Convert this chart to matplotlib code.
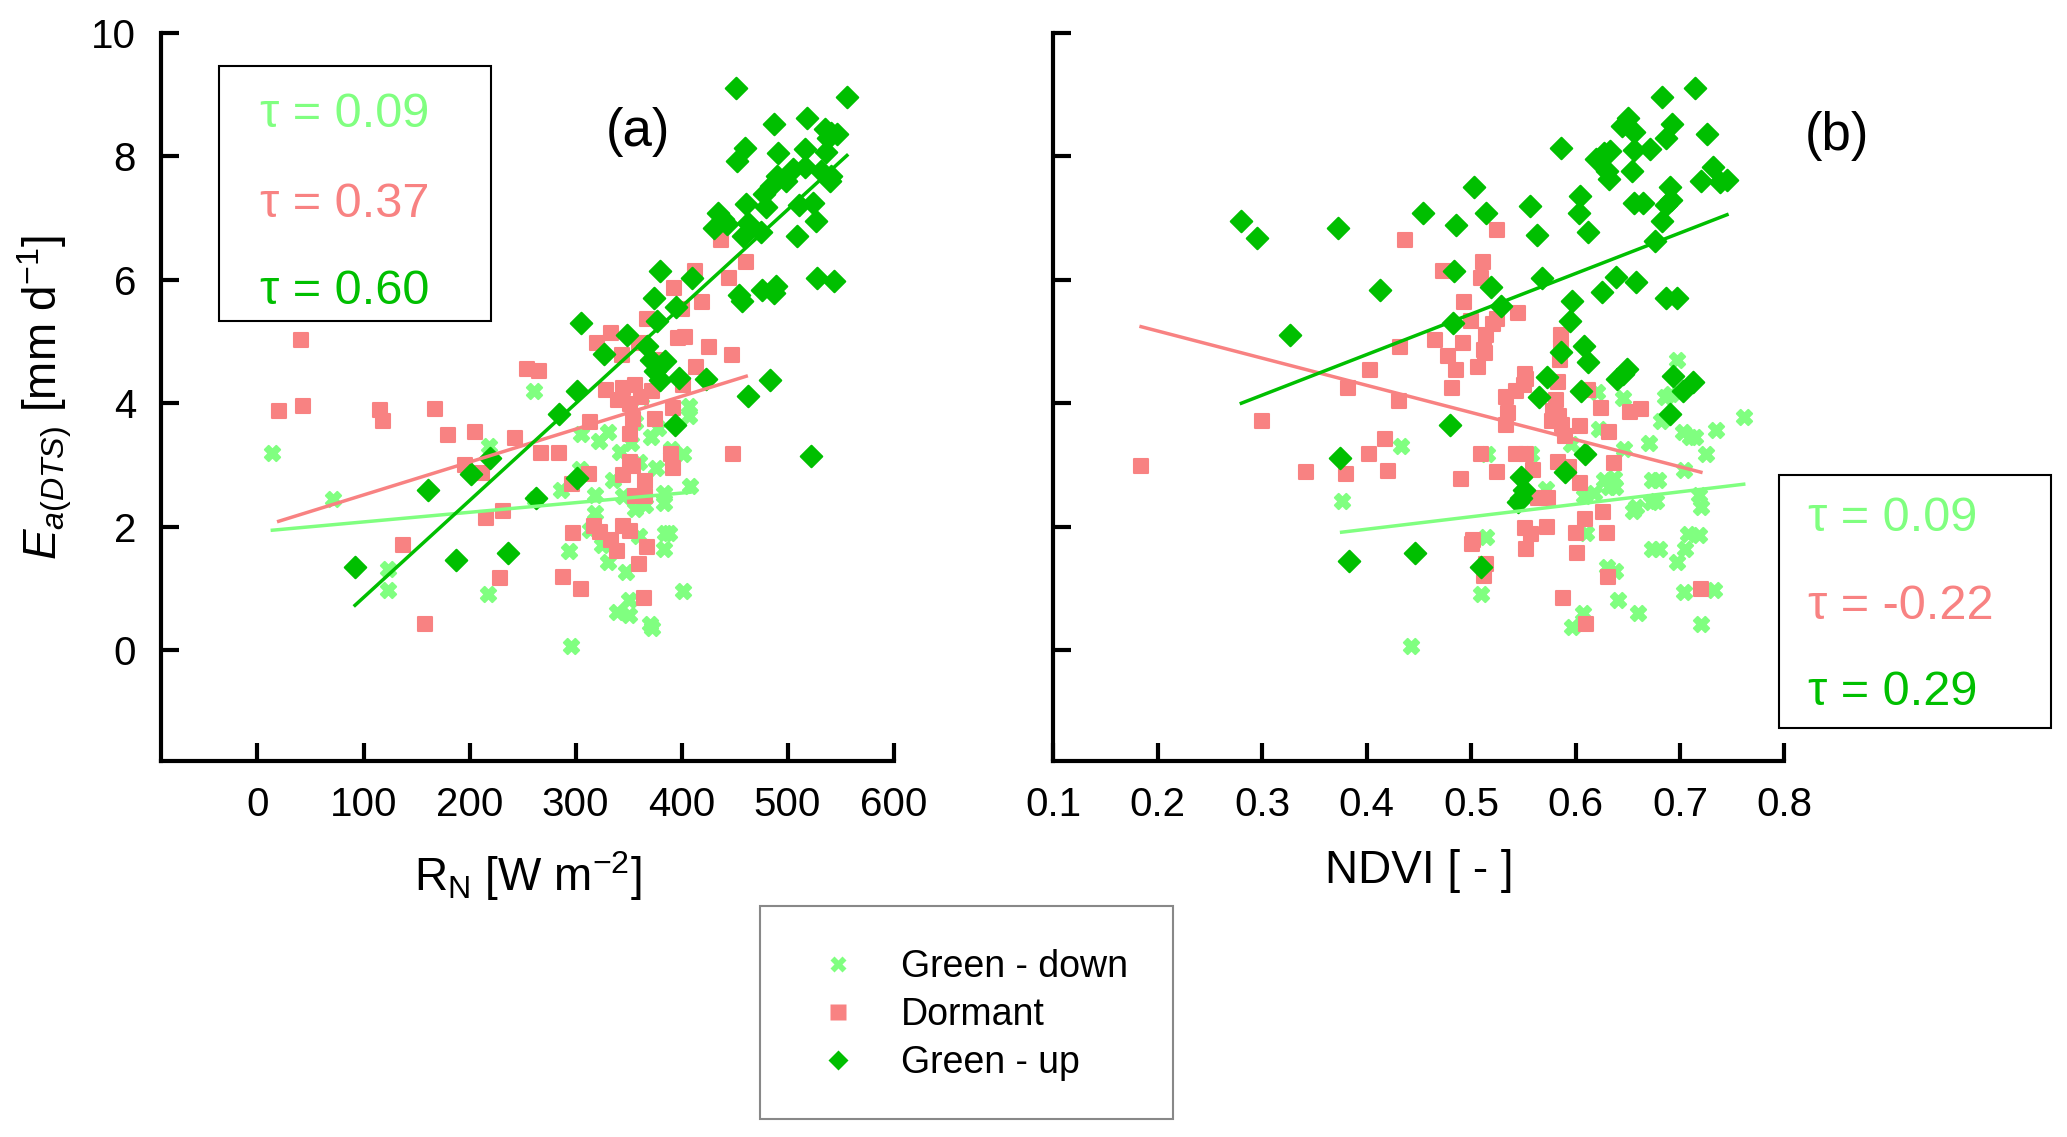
import numpy as np
import matplotlib
matplotlib.use("Agg")
import matplotlib.pyplot as plt
from matplotlib.patches import Rectangle
from matplotlib.lines import Line2D

plt.rcParams['font.family'] = ['Liberation Sans', 'DejaVu Sans']
plt.rcParams['mathtext.fontset'] = 'custom'
plt.rcParams['mathtext.rm'] = 'Liberation Sans'
plt.rcParams['mathtext.it'] = 'Liberation Sans:italic'

# colours of the three phenological phases
c_down = '#80ff80'
c_dorm = '#f88282'
c_up = '#00bf00'

# ---- panel (a): Ea vs net radiation ----
rn_up = [92, 187, 236, 161, 201, 219, 263, 301, 284, 301, 305, 327, 349, 367, 371, 375, 380, 384,
         398, 423, 394, 377, 374, 380, 395, 410, 434, 439, 443, 431, 451, 452, 460, 458, 463, 461,
         454, 457, 463, 475, 478, 484, 490, 499, 505, 480, 476, 487, 489, 483, 487, 491, 509, 511,
         518, 516, 516, 524, 527, 528, 522, 535, 538, 541, 547, 536, 532, 541, 540, 544, 556]
ea_up_a = [1.35, 1.46, 1.57, 2.59, 2.86, 3.11, 2.47, 2.78, 3.82, 4.20, 5.30, 4.80, 5.10, 4.93, 4.70,
           4.52, 4.38, 4.68, 4.41, 4.40, 3.65, 5.34, 5.71, 6.15, 5.56, 6.03, 7.08, 6.98, 6.90, 6.84,
           9.11, 7.93, 8.14, 6.71, 6.92, 7.23, 5.75, 5.65, 4.11, 6.77, 7.39, 7.52, 7.68, 7.60, 7.80,
           7.18, 5.84, 5.79, 5.90, 4.37, 8.52, 8.05, 6.71, 7.22, 8.63, 8.12, 7.82, 7.24, 6.95, 6.03,
           3.15, 8.45, 8.30, 8.38, 8.36, 8.07, 7.77, 7.69, 7.60, 5.98, 8.97]

rn_dorm = [20, 41, 43, 116, 118, 167, 180, 205, 196, 212, 216, 232, 229, 137, 158, 243, 254, 266,
           267, 284, 297, 313, 314, 298, 288, 305, 317, 323, 333, 339, 345, 351, 360, 367, 365, 320,
           333, 329, 344, 345, 351, 354, 351, 351, 345, 354, 356, 366, 366, 360, 367, 378, 375, 392,
           392, 393, 400, 397, 403, 401, 390, 413, 419, 414, 426, 437, 445, 448, 449, 461, 356, 362,
           372, 340]
ea_dorm_a = [3.88, 5.03, 3.95, 3.89, 3.71, 3.90, 3.48, 3.54, 3.00, 2.87, 2.14, 2.25, 1.16, 1.71, 0.42,
             3.44, 4.56, 4.52, 3.20, 3.20, 2.69, 2.86, 3.70, 1.89, 1.18, 0.99, 2.01, 1.91, 1.79, 1.60,
             2.01, 1.93, 1.39, 1.67, 0.85, 4.98, 5.14, 4.21, 4.78, 4.24, 3.99, 3.75, 3.50, 3.05, 2.84,
             2.98, 2.49, 2.49, 2.74, 4.98, 5.36, 4.70, 3.75, 3.92, 2.95, 5.86, 5.53, 5.05, 5.08, 4.30,
             3.17, 6.15, 5.64, 4.58, 4.91, 6.65, 6.03, 4.78, 3.17, 6.29, 4.30, 4.10, 4.20, 4.05]

rn_down = [14, 71, 123, 123, 217, 218, 261, 296, 286, 294, 304, 318, 318, 322, 331, 331, 339, 350,
           350, 348, 342, 352, 356, 362, 370, 372, 371, 378, 383, 384, 383, 388, 401, 401, 407, 407,
           408, 366, 356, 383, 335, 345, 262, 305, 325, 360, 390, 376, 314, 360]
ea_down_a = [3.19, 2.44, 1.31, 0.98, 0.91, 3.31, 4.20, 0.07, 2.59, 1.61, 2.94, 2.52, 2.22, 3.38, 3.54,
             1.42, 0.62, 0.57, 0.81, 1.27, 3.21, 3.35, 3.70, 4.10, 0.42, 0.35, 3.46, 3.60, 2.38, 1.89,
             1.64, 1.90, 0.95, 3.17, 3.96, 3.80, 2.66, 2.35, 2.28, 2.55, 2.75, 2.50, 2.45, 3.50, 1.70,
             3.05, 3.25, 2.95, 1.95, 1.85]

# ---- panel (b): Ea vs NDVI ----
ndvi_up = [0.280, 0.295, 0.327, 0.373, 0.374, 0.383, 0.413, 0.446, 0.454, 0.480, 0.484, 0.483, 0.486,
           0.503, 0.514, 0.519, 0.529, 0.509, 0.556, 0.563, 0.568, 0.573, 0.565, 0.548, 0.551, 0.548,
           0.545, 0.586, 0.586, 0.590, 0.604, 0.603, 0.612, 0.597, 0.595, 0.608, 0.612, 0.605, 0.609,
           0.620, 0.627, 0.633, 0.630, 0.632, 0.625, 0.639, 0.640, 0.645, 0.649, 0.650, 0.656, 0.644,
           0.656, 0.654, 0.656, 0.665, 0.658, 0.671, 0.676, 0.683, 0.683, 0.687, 0.692, 0.690, 0.691,
           0.687, 0.687, 0.697, 0.693, 0.690, 0.703, 0.712, 0.714, 0.720, 0.726, 0.732, 0.738, 0.745]
ea_up_b = [6.96, 6.67, 5.10, 6.84, 3.11, 1.45, 5.84, 1.57, 7.09, 3.65, 6.15, 5.30, 6.88, 7.50, 7.09,
           5.88, 5.57, 1.35, 7.20, 6.73, 6.03, 4.43, 4.10, 2.80, 2.60, 2.47, 2.40, 8.14, 4.83, 2.88,
           7.35, 7.08, 6.77, 5.65, 5.34, 4.93, 4.66, 4.20, 3.17, 7.96, 8.05, 8.08, 7.77, 7.64, 5.80,
           6.04, 4.40, 4.48, 4.55, 8.63, 8.40, 8.49, 8.10, 7.77, 7.24, 7.25, 5.97, 8.12, 6.63, 6.96,
           8.97, 8.30, 8.53, 7.50, 7.30, 7.22, 5.71, 5.71, 4.44, 3.83, 4.20, 4.35, 9.11, 7.60, 8.37,
           7.82, 7.58, 7.62]

ndvi_dorm = [0.184, 0.300, 0.342, 0.380, 0.382, 0.402, 0.403, 0.420, 0.418, 0.431, 0.432, 0.437,
             0.465, 0.473, 0.478, 0.482, 0.490, 0.486, 0.493, 0.492, 0.500, 0.501, 0.502, 0.507,
             0.509, 0.511, 0.513, 0.514, 0.512, 0.514, 0.512, 0.509, 0.525, 0.521, 0.525, 0.525,
             0.535, 0.533, 0.533, 0.545, 0.543, 0.551, 0.552, 0.553, 0.543, 0.553, 0.559, 0.552,
             0.557, 0.553, 0.564, 0.574, 0.573, 0.577, 0.578, 0.581, 0.584, 0.587, 0.590, 0.583,
             0.585, 0.586, 0.586, 0.583, 0.594, 0.588, 0.600, 0.601, 0.604, 0.604, 0.609, 0.610,
             0.612, 0.624, 0.626, 0.630, 0.632, 0.631, 0.637, 0.652, 0.663, 0.720]
ea_dorm_b = [2.99, 3.71, 2.88, 2.86, 4.25, 3.17, 4.54, 2.90, 3.42, 4.04, 4.91, 6.65, 5.03, 6.15, 4.77,
             4.25, 2.77, 4.54, 5.64, 4.97, 5.34, 1.72, 1.78, 4.58, 6.03, 6.29, 4.82, 5.10, 4.87, 1.40,
             1.20, 3.17, 6.81, 5.28, 5.36, 2.88, 3.84, 3.64, 4.10, 5.47, 4.20, 4.30, 4.48, 4.40, 3.17,
             3.17, 2.92, 1.98, 1.88, 1.64, 2.47, 2.47, 1.99, 3.71, 3.88, 4.05, 3.80, 3.65, 3.47, 4.35,
             4.70, 4.90, 5.10, 3.04, 2.96, 0.85, 1.89, 1.57, 3.63, 2.70, 2.12, 0.42, 4.22, 3.92, 2.24,
             1.89, 3.54, 1.18, 3.03, 3.85, 3.90, 0.99]

ndvi_down = [0.376, 0.433, 0.442, 0.509, 0.514, 0.515, 0.557, 0.572, 0.596, 0.597, 0.607, 0.610, 0.608,
             0.618, 0.621, 0.622, 0.627, 0.632, 0.637, 0.638, 0.630, 0.638, 0.641, 0.645, 0.646, 0.655,
             0.658, 0.660, 0.670, 0.673, 0.679, 0.672, 0.677, 0.673, 0.680, 0.686, 0.691, 0.682, 0.697,
             0.697, 0.703, 0.710, 0.704, 0.704, 0.705, 0.708, 0.718, 0.714, 0.725, 0.718, 0.720, 0.720,
             0.733, 0.734, 0.761]
ea_down_b = [2.41, 3.31, 0.07, 0.91, 1.83, 3.17, 3.17, 2.61, 3.34, 0.37, 0.60, 1.89, 2.50, 2.55, 4.18,
             3.58, 2.75, 2.65, 2.78, 2.64, 1.35, 1.28, 0.81, 4.08, 3.25, 2.25, 2.32, 0.60, 3.36, 2.75,
             2.75, 2.40, 2.42, 1.64, 1.64, 4.10, 4.15, 3.71, 4.70, 1.42, 3.53, 3.46, 2.92, 0.94, 1.64,
             1.88, 1.86, 3.46, 3.17, 2.52, 2.32, 0.42, 0.98, 3.56, 3.77]

# regression lines (intercept, slope)
fit_a = {'down': (1.92, 0.00156), 'dorm': (1.98, 0.00533), 'up': (-0.72, 0.01571)}
fit_b = {'down': (1.15, 2.02), 'dorm': (6.05, -4.40), 'up': (2.16, 6.57)}

tau_a = ['0.09', '0.37', '0.60']
tau_b = ['0.09', '-0.22', '0.29']

fig = plt.figure(figsize=(20.67, 11.37), dpi=100)
ax_a = fig.add_axes([0.0779, 0.3306, 0.3544, 0.6404])
ax_b = fig.add_axes([0.5096, 0.3306, 0.3537, 0.6404])


def draw_panel(ax, xs, ys, fits):
    styles = [('down', 'X', c_down, 120), ('dorm', 's', c_dorm, 110), ('up', 'D', c_up, 120)]
    for (key, m, c, s), x, y in zip(styles, xs, ys):
        sc = ax.scatter(x, y, marker=m, s=s, color=c, edgecolors=c, linewidths=1.5, zorder=3)
        sc.set_joinstyle('round')
    for (key, m, c, s), x in zip(styles, xs):
        b0, b1 = fits[key]
        xl = np.array([min(x), max(x)])
        ax.plot(xl, b0 + b1 * xl, color=c, lw=2.5, zorder=4)
    for sp in ['top', 'right']:
        ax.spines[sp].set_visible(False)
    for sp in ['left', 'bottom']:
        ax.spines[sp].set_linewidth(3)
    ax.tick_params(direction='in', length=13, width=3, labelsize=29, pad=18)
    ax.set_ylim(-1.8, 10)
    ax.set_yticks([0, 2, 4, 6, 8, 10])


draw_panel(ax_a, [rn_down, rn_dorm, rn_up], [ea_down_a, ea_dorm_a, ea_up_a], fit_a)
ax_a.set_xlim(-91, 600)
ax_a.set_xticks([0, 100, 200, 300, 400, 500, 600])
ax_a.set_xlabel(r'R$_{\rm N}$ [W m$^{-2}$]', fontsize=33, labelpad=18)
ax_a.set_ylabel(r'$E_{a(DTS)}$ [mm d$^{-1}$]', fontsize=33, labelpad=12)

draw_panel(ax_b, [ndvi_down, ndvi_dorm, ndvi_up], [ea_down_b, ea_dorm_b, ea_up_b], fit_b)
ax_b.set_xlim(0.1, 0.8)
ax_b.set_xticks([0.1, 0.2, 0.3, 0.4, 0.5, 0.6, 0.7, 0.8])
ax_b.set_yticklabels([])
ax_b.set_xlabel('NDVI [ - ]', fontsize=33, labelpad=18)

fig.text(0.3084, 0.884, '(a)', fontsize=38, ha='center', va='center')
fig.text(0.8889, 0.8805, '(b)', fontsize=38, ha='center', va='center')

# tau boxes
cols = [c_down, c_dorm, c_up]
fig.add_artist(Rectangle((0.106, 0.7181), 0.1315, 0.2239,
                         transform=fig.transFigure, fill=False, ec='black', lw=1.5))
for t, c, yp in zip(tau_a, cols, [0.8991, 0.8202, 0.7436]):
    fig.text(0.1258, yp, '\u03c4 = ' + t, color=c, fontsize=35, va='center')
fig.add_artist(Rectangle((0.8608, 0.3596), 0.1315, 0.2228,
                         transform=fig.transFigure, fill=False, ec='black', lw=1.5))
for t, c, yp in zip(tau_b, cols, [0.5441, 0.4664, 0.3910]):
    fig.text(0.8748, yp, '\u03c4 = ' + t, color=c, fontsize=35, va='center')

# legend: frame drawn separately, entries placed inside it
fig.add_artist(Rectangle((0.3678, 0.0162), 0.1999, 0.1868,
                         transform=fig.transFigure, fill=False, ec='#888888', lw=1.5))
handles = [Line2D([], [], ls='none', marker='X', color=c_down, markersize=11, markeredgecolor='none'),
           Line2D([], [], ls='none', marker='s', color=c_dorm, markersize=11, markeredgecolor='none'),
           Line2D([], [], ls='none', marker='D', color=c_up, markersize=10, markeredgecolor='none')]
fig.legend(handles, ['Green - down', 'Dormant', 'Green - up'], loc='center left',
           bbox_to_anchor=(0.3919, 0.107), fontsize=27, frameon=False,
           borderpad=0, borderaxespad=0, handlelength=1.5, handletextpad=0.93,
           labelspacing=0.32)

fig.savefig('out.png', dpi=100)
